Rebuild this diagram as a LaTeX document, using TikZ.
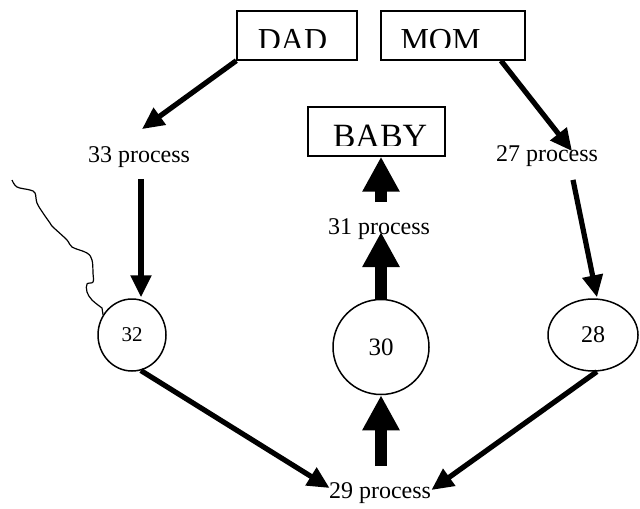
\documentclass[tikz,border=0pt]{standalone}
\usepackage{fontspec}
\setmainfont{Liberation Serif}
\usetikzlibrary{arrows.meta,shapes.geometric,calc}
\begin{document}
\begin{tikzpicture}[x=0.5pt,y=-0.5pt,
  box/.style={draw,line width=0.7pt,rectangle,inner sep=0pt,minimum height=24.5pt},
  lbl/.style={inner sep=0pt,font=\fontsize{12}{14}\selectfont},
  boxtext/.style={inner sep=0pt,anchor=base},
  ring/.style={draw,ellipse,line width=0.75pt,inner sep=0pt},
  arr/.style={line width=2.6pt,-{Triangle[length=11pt,width=10pt]}},
  bigarr/.style={line width=6pt,-{Triangle[length=17.5pt,width=17.5pt]}},
  squig/.style={line width=0.6pt}]
\useasboundingbox (0,0) rectangle (640,508);
% boxes
\node[box,minimum width=60pt] (dad) at (297,35.5) {};
\node[box,minimum width=72pt] (mom) at (453,35.5) {};
\node[box,minimum width=68.5pt] (baby) at (376.5,131.5) {};
\begin{scope}
\clip (238,12) rectangle (356,48);
\node[boxtext,font=\fontsize{16}{18}\selectfont] (dadt) at (292.5,51) {DAD};
\end{scope}
\begin{scope}
\clip (382,12) rectangle (524,48);
\node[boxtext,font=\fontsize{16}{18}\selectfont] (momt) at (440.5,51) {MOM};
\end{scope}
\begin{scope}
\clip (309,108) rectangle (444,145);
\node[boxtext,font=\fontsize{17}{19}\selectfont] (babyt) at (380,147.5) {BABY};
\end{scope}
% process labels
\node[lbl] (p33) at (139,157) {33 process};
\node[lbl] (p27) at (547,156) {27 process};
\node[lbl] (p31) at (379,229) {31 process};
\node[lbl] (p29) at (380,493) {29 process};
% circles
\node[ring,minimum width=34pt,minimum height=36pt,font=\fontsize{10.5}{12}\selectfont] (c32) at (132,335) {32};
\node[ring,minimum width=48pt,minimum height=47.5pt,font=\fontsize{12.5}{14}\selectfont] (c30) at (381,347) {30};
\node[ring,minimum width=45pt,minimum height=36pt,font=\fontsize{12}{14}\selectfont] (c28) at (593,335) {28};
% arrows
\draw[arr] (dad.south west) -- ($(p33.north)+(3,-17)$);
\draw[arr] ($(p33.south)+(2,11)$) -- ($(c32.north)+(9,-1)$);
\draw[arr] ($(mom.south)+(48,0)$) -- ($(p27.north)+(25,6)$);
\draw[arr] ($(p27.south)+(26,13)$) -- ($(c28.north)+(4,-1)$);
\draw[arr] (c32.-76) -- ($(p29.west)+(1,-5)$);
\draw[arr] (c28.-84) -- ($(p29.east)+(0,-3)$);
\draw[bigarr] (c30.north) -- ($(p31.center)+(2,3)$);
\draw[bigarr] ($(p31.north)+(2,-16)$) -- ($(baby.south)+(4.5,0)$);
\draw[bigarr] ($(p29.north)+(1,-16)$) -- (c30.south);
% freehand line
\draw[squig] plot[smooth,tension=0.6] coordinates {(12,180) (17,187) (30,190) (35,193) (37,203) (43,213) (50,223) (53,227) (67,240) (72,247) (87,253) (92,260) (93,273) (93,282) (87,284) (87,292) (92,300) (102,308)} -- (c32.145);
\end{tikzpicture}
\end{document}
